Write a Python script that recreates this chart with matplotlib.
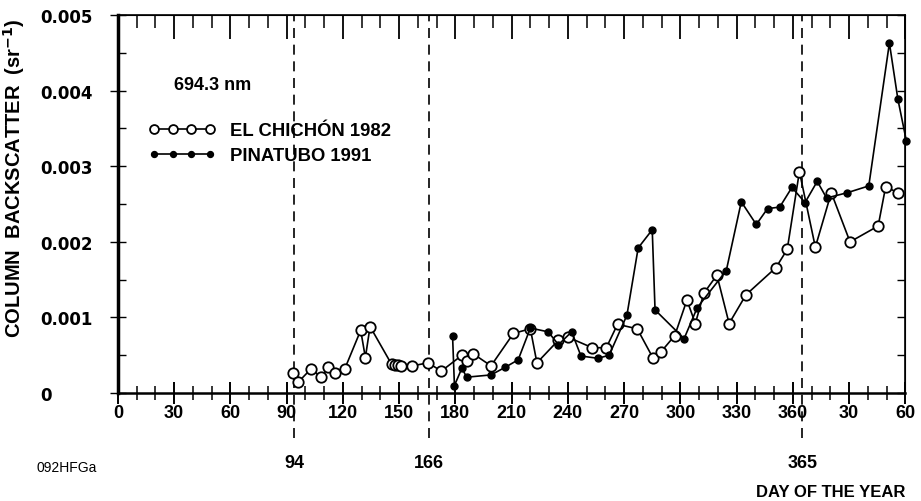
import matplotlib
matplotlib.use('Agg')
import matplotlib.pyplot as plt
from matplotlib.ticker import MultipleLocator

plt.rcParams['font.family'] = ['Liberation Sans', 'DejaVu Sans']
plt.rcParams['font.weight'] = 'bold'

# El Chichon 1982 (open circles)
chich_day = [93.5, 96, 103, 108.5, 112, 116, 121, 129.5, 132, 134.5,
             146, 148, 149.5, 151, 157, 165.5, 172.5, 183.5, 186, 189.5,
             199, 211, 220, 223.5, 235, 240, 253, 260.5, 266.5, 277,
             285.5, 289.5, 297, 303.5, 308, 312.5, 319.5, 326, 335, 351,
             357, 363.5, 372, 380.5, 390.5, 405.5, 409.5, 416]
chich_val = [0.00027, 0.00014, 0.00032, 0.00021, 0.00034, 0.00026, 0.00032, 0.00083, 0.00047, 0.00088,
             0.00038, 0.00037, 0.00037, 0.00036, 0.00036, 0.00040, 0.00029, 0.00050, 0.00043, 0.00052,
             0.00036, 0.00079, 0.00085, 0.00040, 0.00070, 0.00074, 0.00060, 0.00060, 0.00091, 0.00085,
             0.00046, 0.00054, 0.00076, 0.00123, 0.00092, 0.00132, 0.00156, 0.00092, 0.00130, 0.00166,
             0.00190, 0.00293, 0.00193, 0.00265, 0.00200, 0.00221, 0.00273, 0.00265]

# Pinatubo 1991 (filled circles)
pina_day = [178.5, 179.5, 183.5, 186, 199, 206.5, 213.5, 220, 229.5, 235,
            242, 247, 256, 262, 271.5, 277.5, 285, 286.5, 302, 309,
            324.5, 332.5, 340.5, 346.5, 353, 359.5, 366.5, 373, 378, 389,
            400.5, 411.5, 416, 420.5]
pina_val = [0.00076, 0.00010, 0.00033, 0.00021, 0.00024, 0.00034, 0.00044, 0.00086, 0.00081, 0.00064,
            0.00081, 0.00049, 0.00046, 0.00050, 0.00103, 0.00192, 0.00216, 0.00110, 0.00072, 0.00113,
            0.00162, 0.00253, 0.00223, 0.00244, 0.00246, 0.00272, 0.00252, 0.00280, 0.00258, 0.00265,
            0.00274, 0.00463, 0.00389, 0.00334]

xtick_pos = [0, 30, 60, 90, 120, 150, 180, 210, 240, 270, 300, 330, 360, 390, 420]
xtick_lab = ['0', '30', '60', '90', '120', '150', '180', '210', '240', '270', '300', '330', '360', '30', '60']
ytick_pos = [0, 0.001, 0.002, 0.003, 0.004, 0.005]
ytick_lab = ['0', '0.001', '0.002', '0.003', '0.004', '0.005']
event_days = [94, 166, 365]

fig = plt.figure(figsize=(9.21, 5.02), dpi=100)
ax = fig.add_axes([0.128, 0.215, 0.855, 0.753])

ax.plot(chich_day, chich_val, '-o', color='black', lw=1.2, ms=7.5,
        mfc='white', mec='black', mew=1.3, clip_on=False, zorder=3,
        label='EL CHICHÓN 1982')
ax.plot(pina_day, pina_val, '-o', color='black', lw=1.2, ms=5,
        mfc='black', mec='black', clip_on=False, zorder=4,
        label='PINATUBO 1991')

for d in event_days:
    ax.axvline(d, ymin=-0.12, ymax=1, color='black', lw=1.2,
               ls=(0, (6, 4)), clip_on=False, zorder=2)
    ax.text(d, -0.00092, str(d), ha='center', va='center', fontsize=13,
            fontweight='bold')

ax.set_xlim(0, 420)
ax.set_ylim(0, 0.005)
ax.set_xticks(xtick_pos)
ax.set_xticklabels(xtick_lab)
ax.xaxis.set_minor_locator(MultipleLocator(10))
ax.set_yticks(ytick_pos)
ax.set_yticklabels(ytick_lab, family=['DejaVu Sans'])
ax.yaxis.set_minor_locator(MultipleLocator(0.0005))

ax.tick_params(axis='x', which='major', direction='inout', length=16,
               width=1.4, labelsize=13, pad=0)
ax.tick_params(axis='x', which='minor', direction='inout', length=10,
               width=1.1)
ax.tick_params(axis='y', which='major', direction='inout', length=12,
               width=1, labelsize=12, pad=50)
ax.tick_params(axis='y', which='minor', direction='in', length=6,
               width=1)
for lbl in ax.get_yticklabels():
    lbl.set_horizontalalignment('left')

# top and right ticks point inward only
top = ax.secondary_xaxis('top')
top.set_xticks(xtick_pos)
top.set_xticklabels([])
top.xaxis.set_minor_locator(MultipleLocator(10))
top.tick_params(which='major', direction='in', length=17, width=1.3)
top.tick_params(which='minor', direction='in', length=9, width=1.1)
top.spines['top'].set_linewidth(1.2)

right = ax.secondary_yaxis('right')
right.set_yticks(ytick_pos)
right.set_yticklabels([])
right.yaxis.set_minor_locator(MultipleLocator(0.0005))
right.tick_params(which='both', direction='in', length=6, width=1)
right.spines['right'].set_linewidth(1.2)

ax.spines['left'].set_linewidth(2.5)
ax.spines['bottom'].set_linewidth(1.8)

ax.set_ylabel('COLUMN  BACKSCATTER  (sr$^{\\mathbf{-1}}$)', fontsize=14.5,
              fontweight='bold')
ax.yaxis.set_label_coords(-0.116, 0.572)

ax.text(0.071, 0.815, '694.3 nm', transform=ax.transAxes, fontsize=13,
        fontweight='bold', va='center')
ax.legend(loc='upper left', bbox_to_anchor=(0.018, 0.76), frameon=False,
          numpoints=4, handlelength=3.6, handletextpad=0.8, labelspacing=0.42,
          markerscale=0.85, prop={'size': 13.3, 'weight': 'bold'})

fig.text(0.04, 0.068, '092HFGa', fontsize=10, fontweight='normal',
         va='center')
fig.text(0.983, 0.018, 'DAY OF THE YEAR', fontsize=12, fontweight='bold',
         ha='right', va='center')

fig.savefig('out.png', dpi=100)
